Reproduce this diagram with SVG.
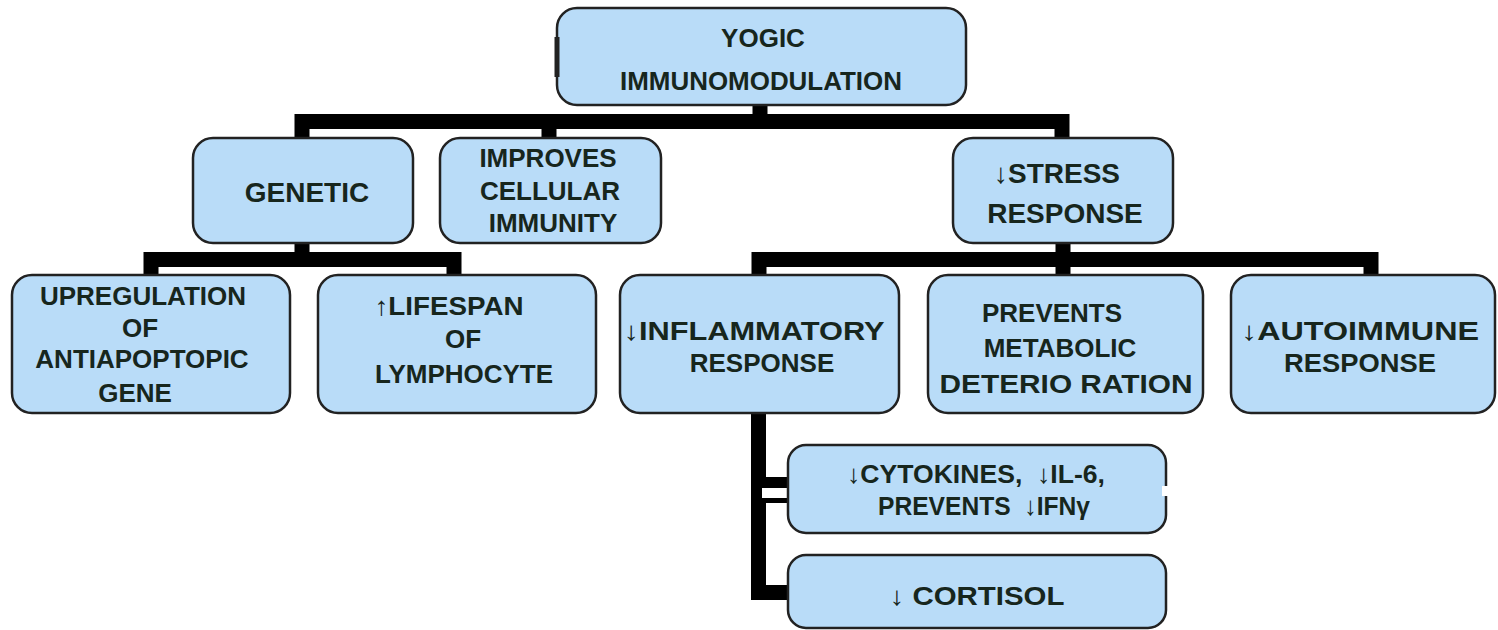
<svg xmlns="http://www.w3.org/2000/svg" width="1498" height="630" viewBox="0 0 1498 630">
<style>
.box{fill:#b9dcf8;stroke:#222;stroke-width:2.5}
.t{font-family:"Liberation Sans",Arial,sans-serif;font-weight:bold;font-size:26px;fill:#17261d;text-anchor:middle}
.big{font-size:28px}
.conn{fill:none;stroke:#000;stroke-width:15;stroke-linejoin:miter}
</style>
<rect width="1498" height="630" fill="#fff"/>
<g id="connectors">
<path class="conn" d="M760,105 V121.5 M302,139 V121.5 H1062 V139 M549,121.5 V139"/>
<path class="conn" d="M302,242 V259.5 M151,276 V259.5 H454 V276"/>
<path class="conn" d="M1063,242 V276 M759,276 V259.5 H1371 V276"/>
<path class="conn" d="M758.5,413 V592.5 H790" stroke-width="14"/>
<rect x="758" y="477" width="32" height="26" fill="#000"/>
<rect x="762" y="488" width="28" height="10" fill="#fff"/>
</g>
<g id="n-yogic">
<rect class="box" x="557" y="8" width="409" height="97" rx="20"/>
<line x1="557" y1="37" x2="557" y2="77" stroke="#222" stroke-width="5"/>
<text class="t" x="763" y="47">YOGIC</text>
<text class="t" x="761" y="90" textLength="282" lengthAdjust="spacingAndGlyphs">IMMUNOMODULATION</text>
</g>
<g id="n-genetic">
<rect class="box" x="193" y="138" width="220" height="105" rx="20"/>
<text class="t big" x="307" y="202">GENETIC</text>
</g>
<g id="n-cellular">
<rect class="box" x="440" y="138" width="221" height="105" rx="20"/>
<text class="t" x="548" y="167">IMPROVES</text>
<text class="t" x="550" y="200">CELLULAR</text>
<text class="t" x="553" y="232">IMMUNITY</text>
</g>
<g id="n-stress">
<rect class="box" x="953" y="138" width="220" height="105" rx="20"/>
<text class="t big" x="1057" y="183">↓STRESS</text>
<text class="t big" x="1065" y="223">RESPONSE</text>
</g>
<g id="n-upregulation">
<rect class="box" x="12" y="275" width="278" height="138" rx="20"/>
<text class="t" x="143" y="305">UPREGULATION</text>
<text class="t" x="140" y="337">OF</text>
<text class="t" x="142" y="368">ANTIAPOPTOPIC</text>
<text class="t" x="135" y="402">GENE</text>
</g>
<g id="n-lifespan">
<rect class="box" x="318" y="275" width="278" height="138" rx="20"/>
<text class="t" x="449" y="315" textLength="149" lengthAdjust="spacingAndGlyphs">↑LIFESPAN</text>
<text class="t" x="463" y="348">OF</text>
<text class="t" x="464" y="383">LYMPHOCYTE</text>
</g>
<g id="n-inflammatory">
<rect class="box" x="620" y="275" width="279" height="138" rx="20"/>
<text class="t" x="754" y="340" textLength="261" lengthAdjust="spacingAndGlyphs">↓INFLAMMATORY</text>
<text class="t" x="762" y="372">RESPONSE</text>
</g>
<g id="n-metabolic">
<rect class="box" x="928" y="275" width="275" height="138" rx="20"/>
<text class="t" x="1052" y="322">PREVENTS</text>
<text class="t" x="1060" y="357">METABOLIC</text>
<text class="t" x="1066" y="393" textLength="253" lengthAdjust="spacingAndGlyphs">DETERIO RATION</text>
</g>
<g id="n-autoimmune">
<rect class="box" x="1231" y="275" width="264" height="138" rx="20"/>
<text class="t" x="1360" y="340" textLength="238" lengthAdjust="spacingAndGlyphs">↓AUTOIMMUNE</text>
<text class="t" x="1360" y="372" textLength="152" lengthAdjust="spacingAndGlyphs">RESPONSE</text>
</g>
<g id="n-cytokines">
<rect class="box" x="788" y="445" width="378" height="88" rx="18"/>
<rect x="1162" y="486" width="8" height="10" fill="#fff"/>
<text class="t" x="976" y="483" font-size="23" textLength="258" lengthAdjust="spacingAndGlyphs" xml:space="preserve">↓CYTOKINES,  ↓IL-6,</text>
<text class="t" x="984" y="515" font-size="23" textLength="212" lengthAdjust="spacingAndGlyphs" xml:space="preserve">PREVENTS  ↓IFNγ</text>
</g>
<g id="n-cortisol">
<rect class="box" x="788" y="555" width="378" height="73" rx="18"/>
<text class="t" x="977" y="605" font-size="30" textLength="175" lengthAdjust="spacingAndGlyphs">↓ CORTISOL</text>
</g>
</svg>
